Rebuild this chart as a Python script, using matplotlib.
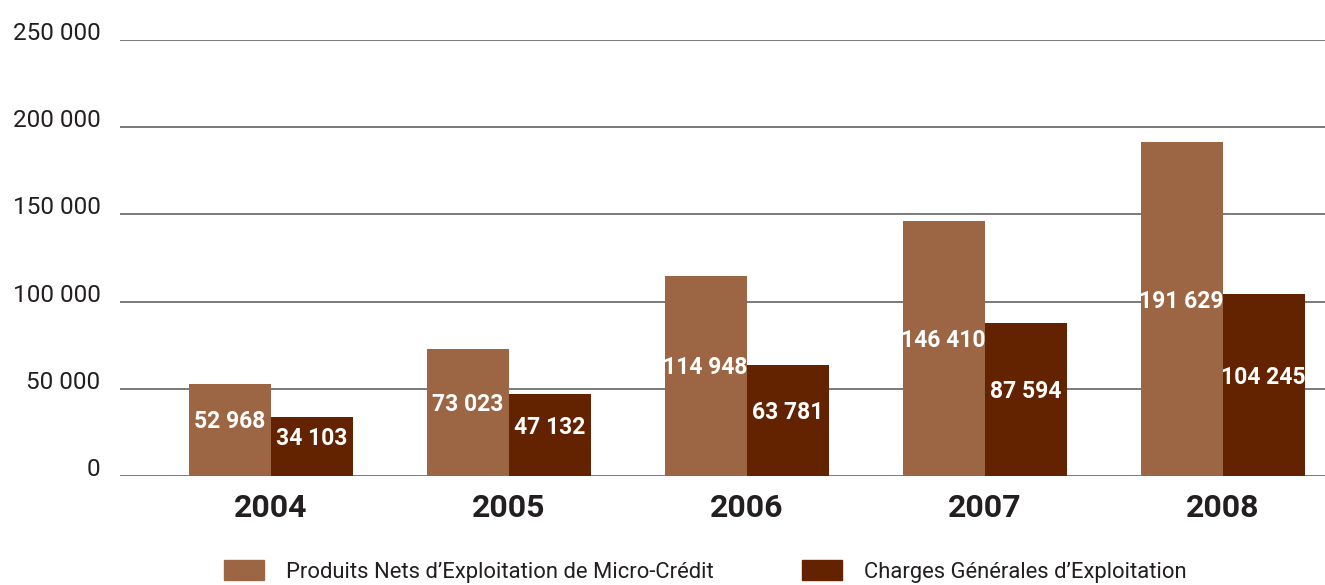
import numpy as np
import matplotlib.pyplot as plt
from matplotlib.patches import Patch

# Donnees
annees = ['2004', '2005', '2006', '2007', '2008']
produits = [52968, 73023, 114948, 146410, 191629]
charges = [34103, 47132, 63781, 87594, 104245]
ticks_y = [0, 50000, 100000, 150000, 200000, 250000]
noms_series = ["Produits Nets d\u2019Exploitation de Micro-Cr\u00e9dit",
               "Charges G\u00e9n\u00e9rales d\u2019Exploitation"]

c_clair = '#9C6644'
c_fonce = '#632300'
c_texte = '#231F20'
police = ['Roboto', 'DejaVu Sans']

def fmt(v):
    return f"{v:,}".replace(',', ' ')

fig = plt.figure(figsize=(13.25, 5.85), dpi=100)
ax = fig.add_axes([120/1325, 1 - 476/585, 1 - 120/1325, (476 - 40)/585])

x = np.arange(len(annees))
w = 0.345

for t in ticks_y:
    ax.axhline(t, color='#7a7a7a', lw=1.4, zorder=0)

ax.bar(x - w/2, produits, w, color=c_clair, zorder=2)
ax.bar(x + w/2, charges, w, color=c_fonce, zorder=2)

# etiquettes au milieu des barres
for xi, v in zip(x - w/2, produits):
    ax.text(xi, v/2 + 4500, fmt(v), ha='center', va='center', color='white',
            fontsize=16.5, fontweight='bold', family=police, zorder=3)
for xi, v in zip(x + w/2, charges):
    ax.text(xi, v/2 + 4500, fmt(v), ha='center', va='center', color='white',
            fontsize=16.5, fontweight='bold', family=police, zorder=3)

ax.set_ylim(0, 250000)
ax.set_xlim(-0.634, 4.43)
ax.set_yticks(ticks_y)
ax.set_yticklabels([fmt(t) for t in ticks_y], family=police, fontsize=17.5, color=c_texte)
for lab in ax.get_yticklabels():
    lab.set_va('baseline')
ax.set_xticks(x)
ax.set_xticklabels(annees, fontsize=23, fontweight='bold', family=police, color=c_texte)
ax.tick_params(axis='y', length=0, pad=14)
ax.tick_params(axis='x', length=0, pad=12)
for s in ax.spines.values():
    s.set_visible(False)

handles = [Patch(color=c_clair), Patch(color=c_fonce)]
fig.legend(handles, noms_series, loc='lower left', bbox_to_anchor=(222/1325, 0.0),
           ncol=2, frameon=False, prop={'family': police, 'size': 15.8},
           handlelength=1.83, handleheight=1.0, handletextpad=1.0,
           columnspacing=4.0, borderpad=0, borderaxespad=0.1, labelcolor=c_texte)

fig.savefig('out.png', dpi=100)
